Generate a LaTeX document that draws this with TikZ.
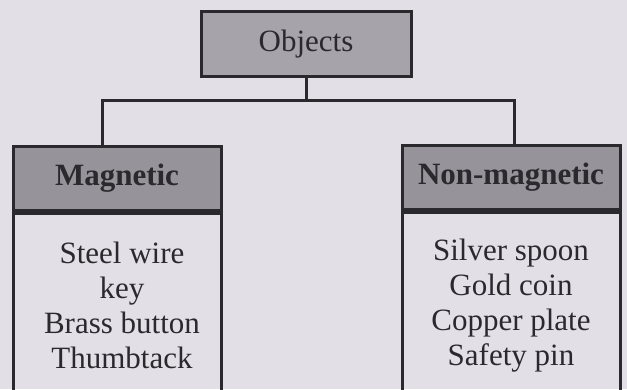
\documentclass[tikz,border=0pt]{standalone}
\usepackage{fontspec}
\setmainfont{Liberation Serif}
\usetikzlibrary{positioning}

\definecolor{paper}{RGB}{226,224,230}
\definecolor{boxgray}{RGB}{166,164,170}
\definecolor{headgray}{RGB}{150,148,154}
\definecolor{ink}{RGB}{42,41,46}

\tikzset{
  topbox/.style={draw=ink, fill=boxgray, line width=3pt, minimum width=210pt, minimum height=65pt, inner sep=0pt, text=ink},
  headbox/.style={draw=ink, fill=headgray, line width=3pt, minimum height=64pt, inner sep=0pt, text=ink, font=\fontsize{31}{35}\selectfont\bfseries},
  bodybox/.style={draw=ink, line width=3pt, minimum height=186pt, inner sep=0pt, anchor=north},
  itemlist/.style={align=center, inner sep=0pt, text=ink, font=\fontsize{31}{35}\selectfont},
  link/.style={draw=ink, line width=3pt}
}

\begin{document}
\begin{tikzpicture}[x=1pt, y=-1pt]
        % Paper and page size
        \fill[paper] (0,0) rectangle (627,389);
        \useasboundingbox (0,0) rectangle (627,389);

        % Top box
        \node[topbox, font=\fontsize{31}{35}\selectfont] (objects) at (306,44) {Objects};

        % Headers of the two groups
        \node[headbox, minimum width=208pt] (maghead) at (117,178) {Magnetic};
        \node[headbox, minimum width=218pt] (nonhead) at (511,177) {Non-magnetic};

        % Bodies, open at the foot of the page
        \node[bodybox, minimum width=208pt] (magbody) at (maghead.south) {};
        \node[bodybox, minimum width=218pt] (nonbody) at (nonhead.south) {};

        % Items in each group
        \node[itemlist] (magitems) at (122,305) {Steel wire\\key\\Brass button\\Thumbtack};
        \node[itemlist] (nonitems) at (511,306) {Silver spoon\\Gold coin\\Copper plate\\Safety pin};

        % Connectors
        \coordinate (lbend) at (102,100);
        \coordinate (rbend) at (514,100);
        \draw[link] (objects.south) -- (objects.south |- lbend);
        \draw[link, line cap=rect] (lbend) -- (rbend);
        \draw[link] (lbend) -- (lbend |- maghead.north);
        \draw[link] (rbend) -- (rbend |- nonhead.north);
      \end{tikzpicture}
\end{document}
